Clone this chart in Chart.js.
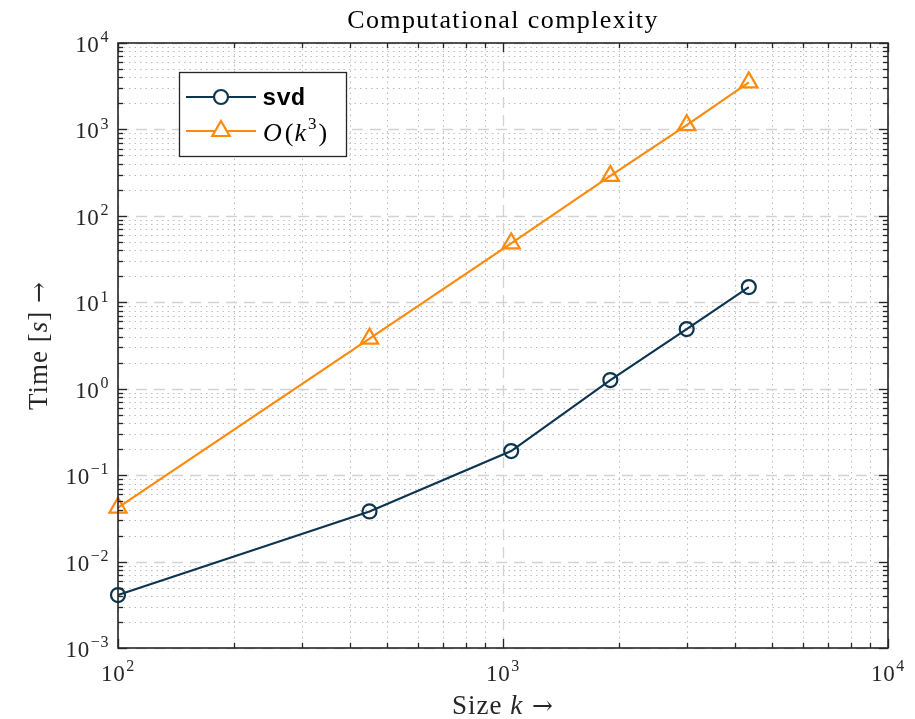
<!DOCTYPE html>
<html>
<head>
<meta charset="utf-8">
<script src="https://cdn.jsdelivr.net/npm/chart.js@4/dist/chart.umd.min.js"></script>
<style>
  html, body { margin: 0; padding: 0; background: #ffffff; }
  #wrap { width: 915px; height: 719px; }
</style>
</head>
<body>
<div id="wrap"><canvas id="c" width="915" height="719"></canvas></div>
<script>
// ---- data ----
const sizes      = [100, 450, 1050, 1900, 3000, 4350];
const svdTimes   = [0.0041, 0.038, 0.19, 1.26, 4.9, 15.0];
const cubicTimes = [0.042, 3.8, 48, 290, 1120, 3500];
const xTickExps  = [2, 3, 4];
const yTickExps  = [-3, -2, -1, 0, 1, 2, 3, 4];
const seriesNames = ['svd', 'O(k^3)'];

const NAVY = '#0e3550';
const ORANGE = '#fb8a0e';
const AXIS = '#262626';
const SERIF = '"Liberation Serif", "DejaVu Serif", serif';

function pts(xs, ys) { return xs.map((x, i) => ({ x: x, y: ys[i] })); }

function setSpacing(ctx, px) { if ('letterSpacing' in ctx) ctx.letterSpacing = px + 'px'; }

function drawPow(ctx, exp, x, y, align, size) {
  const base = '10';
  const e = String(exp).replace('-', '\u2212');
  const es = Math.round(size * 0.7);
  setSpacing(ctx, 0.6);
  ctx.font = size + 'px ' + SERIF;
  const wb = ctx.measureText(base).width;
  ctx.font = es + 'px ' + SERIF;
  const we = ctx.measureText(e).width;
  const total = wb + we + 1;
  let x0 = x;
  if (align === 'center') x0 = x - total / 2;
  else if (align === 'right') x0 = x - total;
  ctx.textAlign = 'left';
  ctx.textBaseline = 'alphabetic';
  ctx.font = size + 'px ' + SERIF;
  ctx.fillText(base, x0, y);
  ctx.font = es + 'px ' + SERIF;
  ctx.fillText(e, x0 + wb + 1, y - size * 0.42);
  setSpacing(ctx, 0);
}

const decor = {
  id: 'decor',
  beforeDatasetsDraw(chart) {
    const ctx = chart.ctx, a = chart.chartArea;
    const xs = chart.scales.x, ys = chart.scales.y;
    ctx.save();
    ctx.strokeStyle = '#bdbdbd';
    ctx.lineWidth = 1;
    ctx.setLineDash([1.5, 4]);
    for (let e = xTickExps[0]; e < xTickExps[xTickExps.length - 1]; e++) {
      for (let m = 2; m <= 9; m++) {
        const px = Math.round(xs.getPixelForValue(m * Math.pow(10, e))) + 0.5;
        ctx.beginPath(); ctx.moveTo(px, a.top); ctx.lineTo(px, a.bottom); ctx.stroke();
      }
    }
    for (let e = yTickExps[0]; e < yTickExps[yTickExps.length - 1]; e++) {
      for (let m = 2; m <= 9; m++) {
        const py = Math.round(ys.getPixelForValue(m * Math.pow(10, e))) + 0.5;
        ctx.beginPath(); ctx.moveTo(a.left, py); ctx.lineTo(a.right, py); ctx.stroke();
      }
    }
    ctx.strokeStyle = '#d2d2d2';
    ctx.lineWidth = 1.3;
    ctx.setLineDash([11, 7]);
    xTickExps.forEach(e => {
      const px = Math.round(xs.getPixelForValue(Math.pow(10, e))) + 0.5;
      ctx.beginPath(); ctx.moveTo(px, a.top); ctx.lineTo(px, a.bottom); ctx.stroke();
    });
    yTickExps.forEach(e => {
      const py = Math.round(ys.getPixelForValue(Math.pow(10, e))) + 0.5;
      ctx.beginPath(); ctx.moveTo(a.left, py); ctx.lineTo(a.right, py); ctx.stroke();
    });
    ctx.restore();
  },
  afterDraw(chart) {
    const ctx = chart.ctx, a = chart.chartArea;
    const xs = chart.scales.x, ys = chart.scales.y;
    ctx.save();
    ctx.setLineDash([]);
    ctx.strokeStyle = AXIS;
    ctx.fillStyle = AXIS;
    ctx.lineWidth = 1.3;
    const tickAt = (isX, val, len) => {
      if (isX) {
        const px = Math.round(xs.getPixelForValue(val)) + 0.5;
        ctx.beginPath(); ctx.moveTo(px, a.bottom); ctx.lineTo(px, a.bottom - len); ctx.stroke();
        ctx.beginPath(); ctx.moveTo(px, a.top); ctx.lineTo(px, a.top + len); ctx.stroke();
      } else {
        const py = Math.round(ys.getPixelForValue(val)) + 0.5;
        ctx.beginPath(); ctx.moveTo(a.left, py); ctx.lineTo(a.left + len, py); ctx.stroke();
        ctx.beginPath(); ctx.moveTo(a.right, py); ctx.lineTo(a.right - len, py); ctx.stroke();
      }
    };
    for (let e = xTickExps[0]; e < xTickExps[xTickExps.length - 1]; e++)
      for (let m = 2; m <= 9; m++) tickAt(true, m * Math.pow(10, e), 5);
    for (let e = yTickExps[0]; e < yTickExps[yTickExps.length - 1]; e++)
      for (let m = 2; m <= 9; m++) tickAt(false, m * Math.pow(10, e), 5);
    xTickExps.forEach(e => tickAt(true, Math.pow(10, e), 9));
    yTickExps.forEach(e => tickAt(false, Math.pow(10, e), 9));
    ctx.lineWidth = 1.6;
    ctx.strokeRect(a.left, a.top, a.right - a.left, a.bottom - a.top);

    // tick labels
    ctx.fillStyle = '#262626';
    xTickExps.forEach(e => {
      const px = xs.getPixelForValue(Math.pow(10, e));
      drawPow(ctx, e, px, a.bottom + 33, 'center', 23);
    });
    yTickExps.forEach(e => {
      const py = ys.getPixelForValue(Math.pow(10, e));
      drawPow(ctx, e, a.left - 9, py + 9, 'right', 23);
    });

    // title
    ctx.fillStyle = '#000000';
    ctx.font = '26px ' + SERIF;
    setSpacing(ctx, 1.4);
    ctx.textAlign = 'center';
    ctx.textBaseline = 'alphabetic';
    ctx.fillText('Computational complexity', (a.left + a.right) / 2, 28);
    setSpacing(ctx, 0);

    const drawMixed = (parts, cx, cy, sp) => {
      let total = 0;
      setSpacing(ctx, sp);
      parts.forEach(p => { ctx.font = p.f; p.w = ctx.measureText(p.t).width; total += p.w; });
      let x = cx - total / 2;
      ctx.textAlign = 'left';
      parts.forEach(p => { ctx.font = p.f; ctx.fillText(p.t, x, cy); x += p.w; });
      setSpacing(ctx, 0);
    };
    ctx.fillStyle = '#262626';
    drawMixed([
      { t: 'Size ', f: '27px ' + SERIF },
      { t: 'k', f: 'italic 27px ' + SERIF },
      { t: ' \u2192', f: '25px "DejaVu Serif", serif' }
    ], (a.left + a.right) / 2, 714, 1);
    ctx.save();
    ctx.translate(47, (a.top + a.bottom) / 2);
    ctx.rotate(-Math.PI / 2);
    drawMixed([
      { t: 'Time [', f: '27px ' + SERIF },
      { t: 's', f: 'italic 27px ' + SERIF },
      { t: '] ', f: '27px ' + SERIF },
      { t: '\u2192', f: '25px "DejaVu Serif", serif' }
    ], 0, 0, 1);
    ctx.restore();

    // legend
    const lx = 179, ly = 72, lw = 167, lh = 84;
    ctx.fillStyle = '#ffffff';
    ctx.fillRect(lx, ly, lw, lh);
    ctx.strokeStyle = '#262626';
    ctx.lineWidth = 1.3;
    ctx.strokeRect(lx + 0.5, ly + 0.5, lw, lh);
    const rows = [
      { y: 97, color: NAVY, marker: 'circle' },
      { y: 131, color: ORANGE, marker: 'tri' }
    ];
    rows.forEach(r => {
      ctx.strokeStyle = r.color;
      ctx.lineWidth = 2.2;
      ctx.beginPath(); ctx.moveTo(186, r.y); ctx.lineTo(256, r.y); ctx.stroke();
      ctx.fillStyle = '#ffffff';
      ctx.beginPath();
      if (r.marker === 'circle') {
        ctx.arc(221, r.y, 7, 0, Math.PI * 2);
      } else {
        const s = 10;
        ctx.moveTo(221, r.y - s);
        ctx.lineTo(221 + s * 0.866, r.y + s * 0.5);
        ctx.lineTo(221 - s * 0.866, r.y + s * 0.5);
        ctx.closePath();
      }
      ctx.fill(); ctx.stroke();
    });
    ctx.fillStyle = '#000000';
    ctx.textAlign = 'left';
    ctx.font = 'bold 24px "Liberation Mono", "DejaVu Sans Mono", monospace';
    ctx.fillText(seriesNames[0], 262, 105);
    let x = 263;
    const parts = [
      { t: 'O', f: 'italic 26px ' + SERIF },
      { t: '(', f: '26px ' + SERIF },
      { t: 'k', f: 'italic 26px ' + SERIF }
    ];
    parts.forEach(p => { ctx.font = p.f; ctx.fillText(p.t, x, 141); x += ctx.measureText(p.t).width + (p.t === 'O' ? 3 : 1); });
    ctx.font = '17px ' + SERIF;
    ctx.fillText('3', x + 1, 129);
    x += ctx.measureText('3').width + 3;
    ctx.font = '26px ' + SERIF;
    ctx.fillText(')', x, 141);
    ctx.restore();
  }
};

new Chart(document.getElementById('c'), {
  type: 'line',
  data: {
    datasets: [
      {
        label: seriesNames[0],
        data: pts(sizes, svdTimes),
        borderColor: NAVY,
        borderWidth: 2.2,
        pointStyle: 'circle',
        pointRadius: 7,
        pointBorderWidth: 2.2,
        pointBackgroundColor: 'rgba(255,255,255,0)',
        pointBorderColor: NAVY,
        tension: 0,
        clip: false
      },
      {
        label: seriesNames[1],
        data: pts(sizes, cubicTimes),
        borderColor: ORANGE,
        borderWidth: 2.2,
        pointStyle: 'triangle',
        pointRadius: 10,
        pointBorderWidth: 2.2,
        pointBackgroundColor: 'rgba(255,255,255,0)',
        pointBorderColor: ORANGE,
        tension: 0,
        clip: false
      }
    ]
  },
  options: {
    responsive: false,
    animation: false,
    events: [],
    layout: { padding: { left: 118, top: 43, right: 27, bottom: 71 } },
    plugins: { legend: { display: false }, tooltip: { enabled: false }, title: { display: false } },
    scales: {
      x: { type: 'logarithmic', min: 100, max: 10000, display: false },
      y: { type: 'logarithmic', min: 0.001, max: 10000, display: false }
    }
  },
  plugins: [decor]
});
</script>
</body>
</html>
